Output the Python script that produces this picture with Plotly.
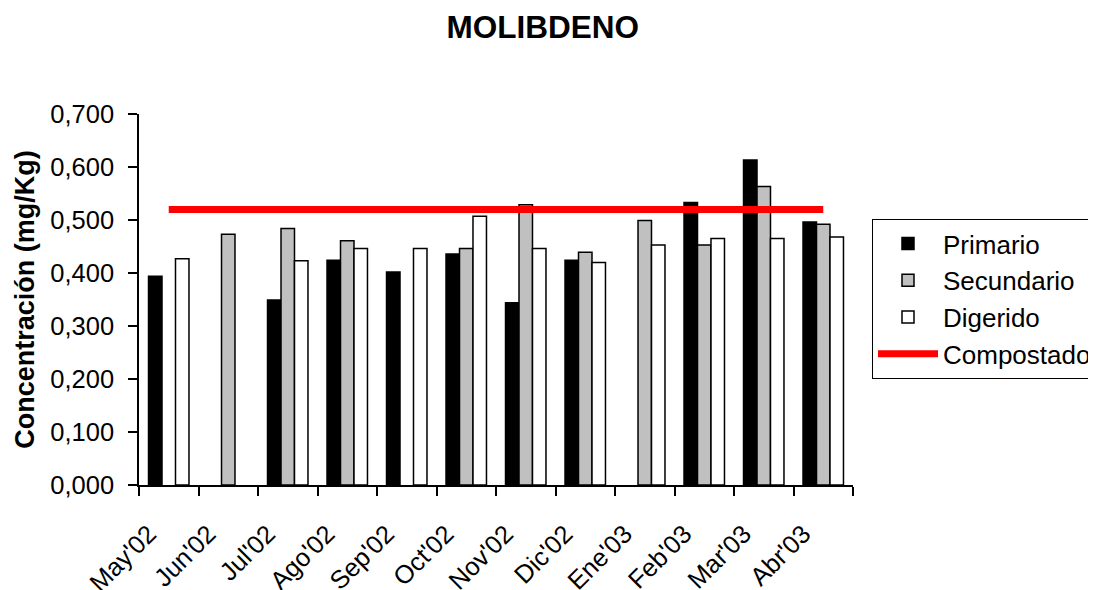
import plotly.graph_objects as go

categories = ["May'02", "Jun'02", "Jul'02", "Ago'02", "Sep'02", "Oct'02",
              "Nov'02", "Dic'02", "Ene'03", "Feb'03", "Mar'03", "Abr'03"]
primario = [0.394, None, 0.349, 0.424, 0.402, 0.436, 0.344, 0.424, None, 0.533, 0.613, 0.496]
secundario = [None, 0.473, 0.484, 0.461, None, 0.446, 0.529, 0.439, 0.499, 0.453, 0.563, 0.492]
digerido = [0.427, None, 0.423, 0.446, 0.446, 0.507, 0.446, 0.420, 0.453, 0.465, 0.465, 0.468]
compostado = [0.52, 0.52, 0.52, 0.52, 0.52, 0.52, 0.52, 0.52, 0.52, 0.52, 0.52, 0.52]

FONT = "Liberation Sans, Arial, sans-serif"

fig = go.Figure()
fig.add_trace(go.Bar(name="Primario", x=categories, y=primario,
                     marker=dict(color="#000000", line=dict(color="#000000", width=1.5))))
fig.add_trace(go.Bar(name="Secundario", x=categories, y=secundario,
                     marker=dict(color="#C0C0C0", line=dict(color="#000000", width=1.5))))
fig.add_trace(go.Bar(name="Digerido", x=categories, y=digerido,
                     marker=dict(color="#FFFFFF", line=dict(color="#000000", width=1.5))))
fig.add_trace(go.Scatter(name="Compostado", x=categories, y=compostado, mode="lines",
                         line=dict(color="#FF0000", width=7)))

# page body has an 8px margin, so the figure is drawn 8px right and down
fig.update_layout(
    width=1096, height=590,
    paper_bgcolor="white", plot_bgcolor="white",
    font=dict(family=FONT, size=26, color="black"),
    separators=",.",
    barmode="group", bargap=0.32, bargroupgap=0,
    margin=dict(l=131, r=251, t=106, b=113, autoexpand=False),
    title=dict(text="<b>MOLIBDENO</b>", x=0.488, xref="container", xanchor="center",
               y=1 - 19 / 590, yref="container", yanchor="middle",
               font=dict(family=FONT, size=31.5, color="black")),
    showlegend=True,
    legend=dict(x=1.0266, xanchor="left", y=0.717, yanchor="top",
                bordercolor="black", borderwidth=1, bgcolor="white",
                font=dict(family=FONT, size=26, color="black"),
                itemwidth=60, traceorder="normal"),
)
fig.update_xaxes(
    type="category", range=[-0.5, 11.5],
    showline=True, linecolor="black", linewidth=1.5,
    ticks="outside", tickson="boundaries", ticklen=9, tickwidth=1.5, tickcolor="black",
    tickangle=-45, ticklabelshift=-20, ticklabelstandoff=22,
    showgrid=False, zeroline=False,
    tickfont=dict(family=FONT, size=25.5, color="black"),
)
fig.update_yaxes(
    range=[0, 0.7], dtick=0.1, tick0=0, tickformat=".3f",
    showline=True, linecolor="black", linewidth=1.5,
    ticks="outside", ticklen=9, tickwidth=1.5, tickcolor="black",
    ticklabelstandoff=9,
    showgrid=False, zeroline=False,
    tickfont=dict(family=FONT, size=25.5, color="black"),
    title=dict(text="<b>Concentración (mg/Kg)</b>", standoff=8,
               font=dict(family=FONT, size=27, color="black")),
)

fig.write_html("out.html")
